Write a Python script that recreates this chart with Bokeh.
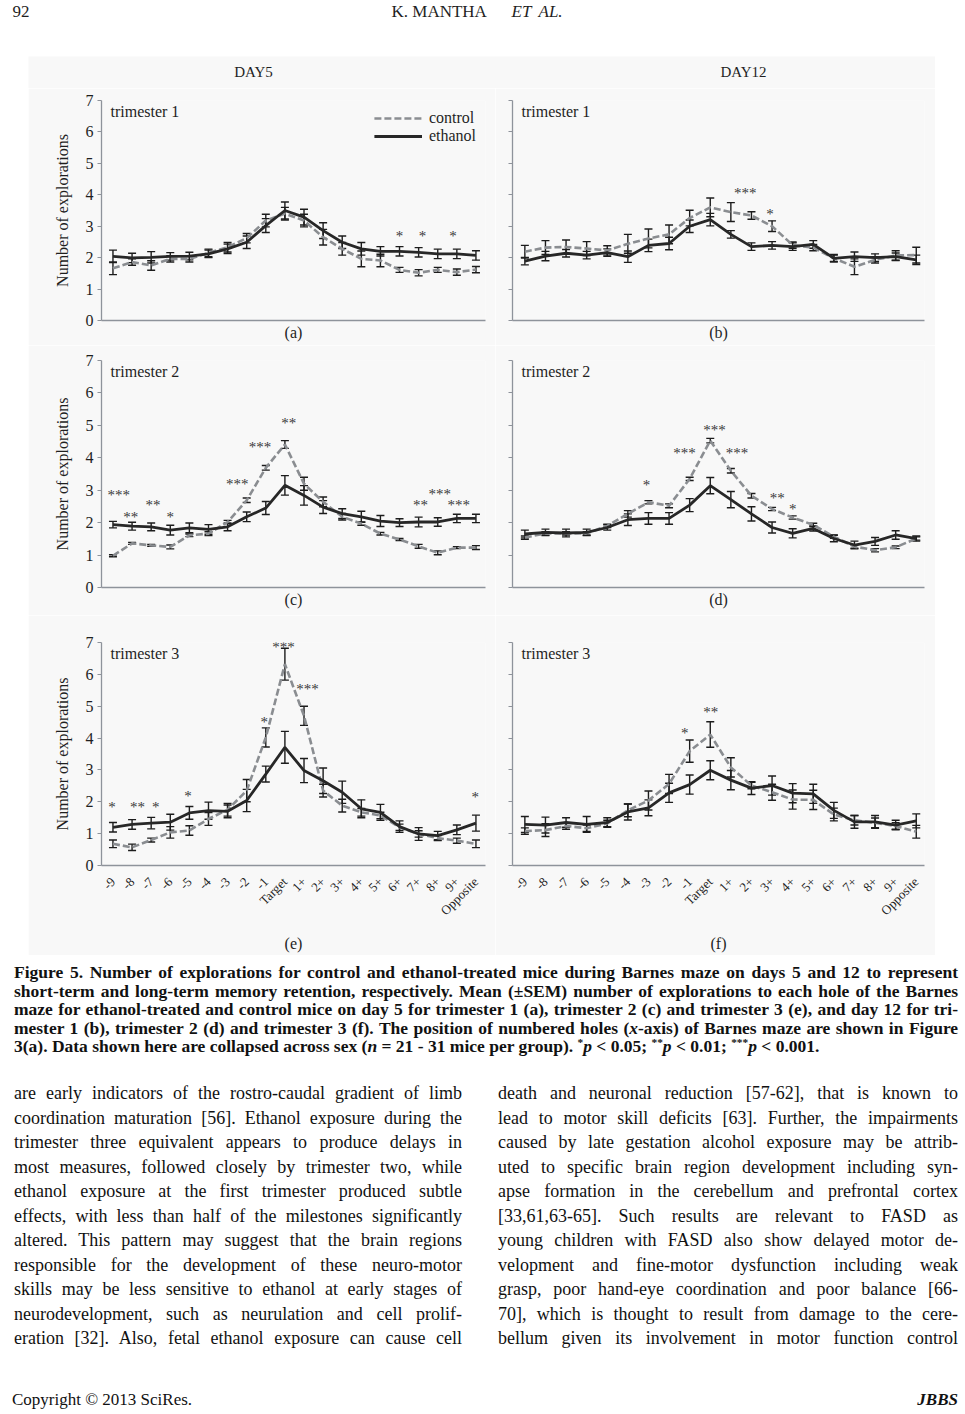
import math
import glob
import re
import html as htmlmod
from bokeh.plotting import figure
from bokeh.models import (ColumnDataSource, Whisker, TeeHead, FixedTicker, Div, Spacer,
                          Legend, LegendItem, Range1d)
from bokeh.layouts import column, row
from bokeh.embed import file_html
from bokeh.resources import INLINE
from bokeh.core.properties import value

# ---------------- data ----------------
holes = ["-9", "-8", "-7", "-6", "-5", "-4", "-3", "-2", "-1", "Target",
         "1+", "2+", "3+", "4+", "5+", "6+", "7+", "8+", "9+", "Opposite"]

# (a) DAY5 trimester 1
a_ethanol = [2.04, 1.99, 2.01, 2.04, 2.05, 2.12, 2.28, 2.49, 3.02, 3.50, 3.29, 2.86, 2.49, 2.28, 2.20, 2.20, 2.17, 2.12, 2.12, 2.07]
a_ethanol_sem = [0.20, 0.15, 0.18, 0.12, 0.12, 0.12, 0.15, 0.20, 0.22, 0.27, 0.25, 0.25, 0.20, 0.20, 0.15, 0.15, 0.15, 0.15, 0.15, 0.15]
a_control = [1.66, 1.86, 1.75, 1.96, 1.96, 2.15, 2.33, 2.62, 3.18, 3.40, 3.18, 2.65, 2.28, 1.96, 1.91, 1.61, 1.52, 1.61, 1.54, 1.62]
a_control_sem = [0.20, 0.10, 0.15, 0.10, 0.10, 0.12, 0.15, 0.15, 0.20, 0.20, 0.20, 0.25, 0.20, 0.25, 0.20, 0.08, 0.10, 0.08, 0.10, 0.10]
a_star_x = [15.0, 16.2, 17.8]
a_star_y = [2.78, 2.78, 2.78]
a_star_txt = ["*", "*", "*"]

# (b) DAY12 trimester 1
b_ethanol = [1.89, 2.05, 2.14, 2.08, 2.16, 2.03, 2.39, 2.45, 3.00, 3.21, 2.74, 2.35, 2.39, 2.35, 2.42, 1.98, 2.03, 2.00, 2.03, 1.93]
b_ethanol_sem = [0.12, 0.15, 0.12, 0.12, 0.12, 0.18, 0.20, 0.20, 0.20, 0.20, 0.12, 0.12, 0.12, 0.12, 0.12, 0.12, 0.15, 0.12, 0.12, 0.15]
b_control = [2.19, 2.32, 2.34, 2.29, 2.23, 2.44, 2.61, 2.74, 3.26, 3.60, 3.45, 3.34, 3.00, 2.40, 2.32, 1.98, 1.71, 1.93, 2.07, 2.08]
b_control_sem = [0.20, 0.22, 0.22, 0.22, 0.15, 0.30, 0.30, 0.30, 0.25, 0.30, 0.30, 0.12, 0.17, 0.10, 0.10, 0.10, 0.25, 0.10, 0.15, 0.25]
b_star_x = [10.7, 11.9]
b_star_y = [4.16, 3.47]
b_star_txt = ["***", "*"]

# (c) DAY5 trimester 2
c_ethanol = [1.94, 1.89, 1.87, 1.77, 1.84, 1.79, 1.87, 2.18, 2.45, 3.15, 2.84, 2.48, 2.28, 2.18, 2.05, 2.00, 2.02, 2.02, 2.13, 2.13]
c_ethanol_sem = [0.10, 0.12, 0.12, 0.15, 0.15, 0.15, 0.12, 0.15, 0.20, 0.30, 0.30, 0.20, 0.15, 0.17, 0.17, 0.12, 0.15, 0.13, 0.13, 0.13]
c_control = [0.98, 1.36, 1.30, 1.25, 1.61, 1.66, 2.02, 2.69, 3.69, 4.41, 3.20, 2.64, 2.18, 1.97, 1.66, 1.48, 1.27, 1.07, 1.23, 1.23]
c_control_sem = [0.03, 0.03, 0.03, 0.06, 0.04, 0.06, 0.05, 0.07, 0.07, 0.12, 0.20, 0.15, 0.10, 0.05, 0.04, 0.03, 0.06, 0.06, 0.03, 0.06]
c_star_x = [0.3, 0.93, 2.1, 3.0, 6.5, 7.7, 9.2, 16.1, 17.1, 18.1]
c_star_y = [2.95, 2.28, 2.64, 2.28, 3.28, 4.41, 5.15, 2.64, 2.98, 2.64]
c_star_txt = ["***", "**", "**", "*", "***", "***", "**", "**", "***", "***"]

# (d) DAY12 trimester 2
d_ethanol = [1.65, 1.70, 1.68, 1.70, 1.85, 2.09, 2.13, 2.13, 2.54, 3.14, 2.71, 2.27, 1.85, 1.67, 1.82, 1.51, 1.31, 1.42, 1.62, 1.51]
d_ethanol_sem = [0.12, 0.10, 0.12, 0.10, 0.08, 0.18, 0.18, 0.18, 0.20, 0.25, 0.25, 0.22, 0.17, 0.14, 0.08, 0.10, 0.12, 0.12, 0.13, 0.08]
d_control = [1.54, 1.67, 1.67, 1.67, 1.90, 2.27, 2.63, 2.52, 3.35, 4.53, 3.60, 2.83, 2.42, 2.16, 1.93, 1.57, 1.26, 1.15, 1.24, 1.51]
d_control_sem = [0.05, 0.05, 0.05, 0.05, 0.05, 0.10, 0.05, 0.06, 0.05, 0.07, 0.07, 0.07, 0.05, 0.05, 0.05, 0.05, 0.05, 0.05, 0.04, 0.05]
d_star_x = [5.9, 7.75, 9.2, 10.3, 12.25, 13.0]
d_star_y = [3.26, 4.24, 4.94, 4.24, 2.85, 2.50]
d_star_txt = ["*", "***", "***", "***", "**", "*"]

# (e) DAY5 trimester 3
e_ethanol = [1.20, 1.29, 1.33, 1.36, 1.65, 1.72, 1.70, 2.04, 2.87, 3.71, 2.98, 2.66, 2.30, 1.78, 1.67, 1.22, 0.99, 0.94, 1.12, 1.33]
e_ethanol_sem = [0.15, 0.15, 0.18, 0.25, 0.20, 0.27, 0.20, 0.35, 0.25, 0.50, 0.38, 0.40, 0.35, 0.28, 0.25, 0.18, 0.20, 0.13, 0.15, 0.25]
e_control = [0.68, 0.57, 0.80, 1.04, 1.10, 1.46, 1.75, 2.35, 4.02, 6.32, 4.70, 2.35, 1.88, 1.67, 1.57, 1.20, 0.99, 0.86, 0.78, 0.68]
e_control_sem = [0.12, 0.10, 0.06, 0.18, 0.15, 0.20, 0.20, 0.35, 0.30, 0.50, 0.30, 0.20, 0.20, 0.12, 0.10, 0.10, 0.10, 0.08, 0.08, 0.12]
e_star_x = [-0.05, 1.29, 2.24, 3.93, 7.92, 8.93, 10.18, 18.96]
e_star_y = [1.93, 1.93, 1.93, 2.27, 4.60, 6.95, 5.62, 2.25]
e_star_txt = ["*", "**", "*", "*", "*", "***", "***", "*"]

# (f) DAY12 trimester 3
f_ethanol = [1.29, 1.27, 1.35, 1.29, 1.35, 1.68, 1.81, 2.28, 2.54, 2.99, 2.68, 2.43, 2.51, 2.27, 2.25, 1.73, 1.37, 1.37, 1.27, 1.40]
f_ethanol_sem = [0.25, 0.25, 0.15, 0.25, 0.15, 0.25, 0.25, 0.30, 0.30, 0.30, 0.30, 0.20, 0.30, 0.30, 0.30, 0.25, 0.20, 0.20, 0.15, 0.22]
f_control = [1.08, 1.11, 1.24, 1.17, 1.32, 1.73, 2.04, 2.56, 3.59, 4.11, 3.08, 2.51, 2.30, 2.07, 2.06, 1.60, 1.42, 1.34, 1.24, 1.06]
f_control_sem = [0.10, 0.20, 0.10, 0.10, 0.10, 0.20, 0.30, 0.30, 0.35, 0.40, 0.30, 0.10, 0.25, 0.30, 0.30, 0.20, 0.15, 0.15, 0.10, 0.20]
f_star_x = [7.76, 9.02]
f_star_y = [4.24, 4.90]
f_star_txt = ["*", "**"]

y_ticks = [0, 1, 2, 3, 4, 5, 6, 7]

# ---------------- styles ----------------
SERIF = "Liberation Serif"
BG = "#f8f8f8"
AX = "#8e939b"
TXT = "#1f1f1f"
ETH = "#272727"
CTL = "#8a8d91"
WHISK = "#1c1c1c"


def make_panel(eth, eth_sem, ctl, ctl_sem, sx, sy, st, tri, letter,
               left, tick_labels, height, top, bottom, legend=False, label_standoff=3):
    w = 467 if left else 440
    p = figure(width=w, height=height, x_range=Range1d(-0.6, 19.5 if left else 19.4),
               y_range=Range1d(0, 7), output_backend="svg", toolbar_location=None,
               min_border_left=73 if left else 17, min_border_right=10 if left else 11,
               min_border_top=top, min_border_bottom=bottom,
               background_fill_color=BG, border_fill_color=BG, outline_line_color=None)
    p.xgrid.visible = False
    p.ygrid.visible = False
    x = list(range(len(holes)))

    r_ctl = p.line(x, ctl, line_color=CTL, line_width=2.6, line_dash="7 3")
    r_eth = p.line(x, eth, line_color=ETH, line_width=2.8)

    for vals, sems in ((ctl, ctl_sem), (eth, eth_sem)):
        src = ColumnDataSource(dict(x=x,
                                    lower=[v - s for v, s in zip(vals, sems)],
                                    upper=[v + s for v, s in zip(vals, sems)]))
        wk = Whisker(source=src, base="x", lower="lower", upper="upper",
                     line_color=WHISK, line_width=1.4,
                     upper_head=TeeHead(size=8, line_color=WHISK, line_width=1.4),
                     lower_head=TeeHead(size=8, line_color=WHISK, line_width=1.4))
        p.add_layout(wk)

    p.text(x=sx, y=sy, text=st, text_font=value(SERIF), text_font_size="15px",
           text_color="#383838", text_align="center", text_baseline="middle", y_offset=3)

    p.text(x=[-0.6], y=[7], text=[tri], text_font=value(SERIF), text_font_size="16px",
           text_color=TXT, text_align="left", text_baseline="top", x_offset=9, y_offset=2)

    xa = p.xaxis[0]
    xa.axis_line_color = AX
    xa.axis_line_width = 1.3
    xa.major_tick_line_color = None
    xa.minor_tick_line_color = None
    xa.major_label_text_font = SERIF
    xa.major_label_text_color = TXT
    if tick_labels:
        xa.ticker = FixedTicker(ticks=x)
        xa.major_label_overrides = {i: h for i, h in enumerate(holes)}
        xa.major_label_orientation = math.pi / 4
        xa.major_label_text_font_size = "13px"
        xa.major_label_standoff = 8
    else:
        xa.ticker = FixedTicker(ticks=[])
        xa.major_label_standoff = 0
    xa.axis_label = "(" + letter + ")"
    xa.axis_label_text_font = SERIF
    xa.axis_label_text_font_size = "16px"
    xa.axis_label_text_font_style = "normal"
    xa.axis_label_text_color = TXT
    xa.axis_label_standoff = label_standoff

    ya = p.yaxis[0]
    ya.ticker = FixedTicker(ticks=y_ticks)
    ya.axis_line_color = AX
    ya.axis_line_width = 1.3
    ya.major_tick_line_color = AX
    ya.major_tick_out = 4
    ya.major_tick_in = 0
    ya.minor_tick_line_color = None
    ya.major_label_text_font = SERIF
    ya.major_label_text_color = TXT
    ya.major_label_text_font_size = "16px"
    if left:
        ya.major_label_standoff = 4
        ya.axis_label = "Number of explorations"
        ya.axis_label_text_font = SERIF
        ya.axis_label_text_font_size = "16px"
        ya.axis_label_text_font_style = "normal"
        ya.axis_label_text_color = TXT
        ya.axis_label_standoff = 12
    else:
        ya.major_label_overrides = {t: "" for t in y_ticks}
        ya.major_label_standoff = 0

    if legend:
        lg = Legend(items=[LegendItem(label="control", renderers=[r_ctl]),
                           LegendItem(label="ethanol", renderers=[r_eth])],
                    location="top_right", border_line_color=None, background_fill_alpha=0,
                    label_text_font=SERIF, label_text_font_size="16px", label_text_color=TXT,
                    label_text_line_height=0.8,
                    glyph_width=48, glyph_height=12, label_standoff=7, label_height=12,
                    spacing=0, padding=0, margin=9)
        p.add_layout(lg)
    return p


pa = make_panel(a_ethanol, a_ethanol_sem, a_control, a_control_sem, a_star_x, a_star_y, a_star_txt,
                "trimester 1", "a", True, False, 257, 12, 25, legend=True)
pb = make_panel(b_ethanol, b_ethanol_sem, b_control, b_control_sem, b_star_x, b_star_y, b_star_txt,
                "trimester 1", "b", False, False, 257, 12, 25)
pc = make_panel(c_ethanol, c_ethanol_sem, c_control, c_control_sem, c_star_x, c_star_y, c_star_txt,
                "trimester 2", "c", True, False, 270, 15, 28)
pd = make_panel(d_ethanol, d_ethanol_sem, d_control, d_control_sem, d_star_x, d_star_y, d_star_txt,
                "trimester 2", "d", False, False, 270, 15, 28)
pe = make_panel(e_ethanol, e_ethanol_sem, e_control, e_control_sem, e_star_x, e_star_y, e_star_txt,
                "trimester 3", "e", True, True, 340, 27, 90, label_standoff=9)
pf = make_panel(f_ethanol, f_ethanol_sem, f_control, f_control_sem, f_star_x, f_star_y, f_star_txt,
                "trimester 3", "f", False, True, 340, 27, 90, label_standoff=9)


def blank_fig(w, h, x0, x1, y0, y1, bg):
    f = figure(width=w, height=h, x_range=Range1d(x0, x1), y_range=Range1d(y1, y0),
               output_backend="svg", toolbar_location=None, min_border=0,
               background_fill_color=bg, border_fill_color=bg, outline_line_color=None)
    f.axis.visible = False
    f.grid.visible = False
    return f


PAGE_W = 960

header = blank_fig(PAGE_W, 56, 0, PAGE_W, 0, 56, "white")
header.text(x=[12], y=[11], text=["92"], text_font=value(SERIF), text_font_size="17px",
            text_color=TXT, text_baseline="middle")
header.text(x=[391], y=[11], text=["K. MANTHA"], text_font=value(SERIF), text_font_size="17px",
            text_color=TXT, text_baseline="middle")
header.text(x=[511, 538], y=[11, 11], text=["ET", "AL."], text_font=value(SERIF),
            text_font_size="17px", text_font_style="italic", text_color=TXT, text_baseline="middle")

days = blank_fig(907, 32, 28, 935, 56, 88, BG)
days.text(x=[253, 743], y=[71, 71], text=["DAY5", "DAY12"], text_font=value(SERIF),
          text_font_size="15px", text_color=TXT, text_align="center", text_baseline="middle")

# ---------------- text blocks ----------------
SUP = '<sup style="line-height:0;font-size:0.65em;vertical-align:0.55em;">'
caption_lines = [
    "Figure 5. Number of explorations for control and ethanol-treated mice during Barnes maze on days 5 and 12 to represent",
    "short-term and long-term memory retention, respectively. Mean (&plusmn;SEM) number of explorations to each hole of the Barnes",
    "maze for ethanol-treated and control mice on day 5 for trimester 1 (a), trimester 2 (c) and trimester 3 (e), and day 12 for tri-",
    "mester 1 (b), trimester 2 (d) and trimester 3 (f). The position of numbered holes (<i>x</i>-axis) of Barnes maze are shown in Figure",
]
caption_last = ("3(a). Data shown here are collapsed across sex (<i>n</i> = 21 - 31 mice per group). "
                + SUP + "*</sup><i>p</i> &lt; 0.05; " + SUP + "**</sup><i>p</i> &lt; 0.01; "
                + SUP + "***</sup><i>p</i> &lt; 0.001.")

left_lines = [
    "are early indicators of the rostro-caudal gradient of limb",
    "coordination maturation [56]. Ethanol exposure during the",
    "trimester three equivalent appears to produce delays in",
    "most measures, followed closely by trimester two, while",
    "ethanol exposure at the first trimester produced subtle",
    "effects, with less than half of the milestones significantly",
    "altered. This pattern may suggest that the brain regions",
    "responsible for the development of these neuro-motor",
    "skills may be less sensitive to ethanol at early stages of",
    "neurodevelopment, such as neurulation and cell prolif-",
    "eration [32]. Also, fetal ethanol exposure can cause cell",
]
right_lines = [
    "death and neuronal reduction [57-62], that is known to",
    "lead to motor skill deficits [63]. Further, the impairments",
    "caused by late gestation alcohol exposure may be attrib-",
    "uted to specific brain region development including syn-",
    "apse formation in the cerebellum and prefrontal cortex",
    "[33,61,63-65]. Such results are relevant to FASD as",
    "young children with FASD also show delayed motor de-",
    "velopment and fine-motor dysfunction including weak",
    "grasp, poor hand-eye coordination and poor balance [66-",
    "70], which is thought to result from damage to the cere-",
    "bellum given its involvement in motor function control",
]


# ---- text measuring (for fitting justified lines) ----
def _find(name):
    for pat in ("/usr/share/fonts/**/" + name, "/usr/local/share/fonts/**/" + name,
                "/usr/share/fonts/" + name):
        r = glob.glob(pat, recursive=True)
        if r:
            return r[0]
    return None


_fonts = {}
try:
    from PIL import ImageFont
    for key, fname in (("normal", "LiberationSerif-Regular.ttf"), ("bold", "LiberationSerif-Bold.ttf")):
        path = _find(fname)
        if path:
            _fonts[key] = ImageFont.truetype(path, 100)
except Exception:
    _fonts = {}


def plain(t):
    return htmlmod.unescape(re.sub(r"<[^>]+>", "", t))


def text_w(t, size, weight):
    f = _fonts.get(weight)
    if f is None:
        return len(plain(t)) * size * 0.46 * (1.05 if weight == "bold" else 1.0)
    return f.getlength(plain(t)) * size / 100.0


def jline(txt, width, size, weight, lh, justify=True):
    nat = text_w(txt, size, weight)
    scale = min(1.0, width / (nat * 1.025 + 1))
    w = width / scale
    al = "text-align:justify;text-align-last:justify;" if justify else "text-align:left;"
    return (f'<div style="width:{w:.1f}px;height:{lh}px;line-height:{lh}px;font-size:{size}px;'
            f'font-weight:{weight};{al}transform:scaleX({scale:.4f});transform-origin:0 0;'
            f'white-space:normal;overflow:visible;color:#111;">{txt}</div>')


CAP_SIZE = 17.5
cap_html = [f'<div style="font-family:\'{SERIF}\',serif;padding:8px 0 0 14px;">']
for ln in caption_lines:
    cap_html.append(jline(ln, 944, CAP_SIZE, "bold", 18.6))
cap_html.append(jline(caption_last, 944, CAP_SIZE, "bold", 18.6, justify=False))
cap_html.append("</div>")
caption = Div(text="".join(cap_html), width=PAGE_W, height=120, margin=(0, 0, 0, 0))

BODY_SIZE = 18


def column_html(lines, left_px, width):
    out = [f'<div style="position:absolute;left:{left_px}px;top:6px;width:{width}px;">']
    for ln in lines:
        out.append(jline(ln, width, BODY_SIZE, "normal", 24.5))
    out.append("</div>")
    return "".join(out)


body_html = (f'<div style="position:relative;width:{PAGE_W}px;height:301px;font-family:\'{SERIF}\',serif;">'
             + column_html(left_lines, 14, 448)
             + column_html(right_lines, 498, 460)
             + "</div>")
body = Div(text=body_html, width=PAGE_W, height=301, margin=(0, 0, 0, 0))

footer_html = (f'<div style="position:relative;width:{PAGE_W}px;height:34px;font-family:\'{SERIF}\',serif;'
               f'font-size:17px;color:#111;">'
               f'<div style="position:absolute;left:12px;top:15px;line-height:18px;">Copyright &copy; 2013 SciRes.</div>'
               f'<div style="position:absolute;right:2px;top:15px;line-height:18px;font-weight:bold;font-style:italic;">JBBS</div>'
               f'</div>')
footer = Div(text=footer_html, width=PAGE_W, height=34, margin=(0, 0, 0, 0))

RS = PAGE_W - 28 - 467 - 440
r0 = row(Spacer(width=28, height=32), days, Spacer(width=PAGE_W - 28 - 907, height=32), spacing=0)
r1 = row(Spacer(width=28, height=257), pa, pb, Spacer(width=RS, height=257), spacing=0)
r2 = row(Spacer(width=28, height=270), pc, pd, Spacer(width=RS, height=270), spacing=0)
r3 = row(Spacer(width=28, height=340), pe, pf, Spacer(width=RS, height=340), spacing=0)

page = column(header, r0, r1, r2, r3, caption, body, footer, spacing=0)

with open("out.html", "w") as fh:
    fh.write(file_html(page, INLINE))
